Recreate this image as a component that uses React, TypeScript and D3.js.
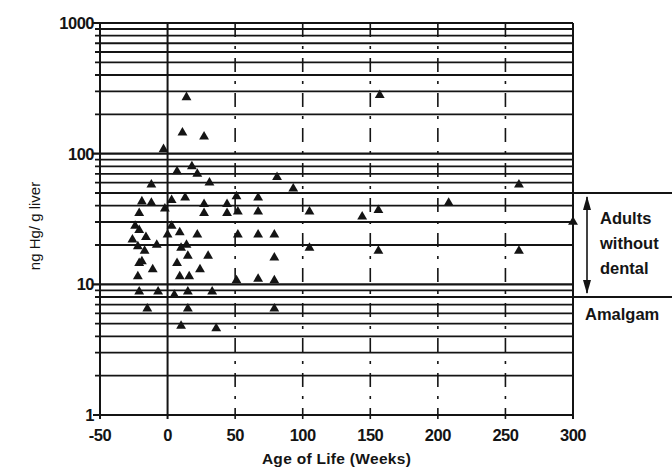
import React from "react";
import * as d3 from "d3";

// age in weeks, Hg in ng/g liver
const ages = [
  14, 11, 27, -3, 157, -12, 7, 18, 22, 31, 81, 93, 260, 156, 208, 144, 300, 156, 260, 105,
  105, 51, 67, 52, 67, 52, 67, 79, 79, 51, 67, 79, 79, -19, -12, 3, 13, 27, 44, 27,
  44, -21, -21, -16, -22, -17, -8, 3, 9, 14, 15, 22, 30, -21, -11, 7, 24, -22, 9, 16,
  -21, -7, 5, 15, 33, -15, 15, 10, 36, -19, -26, -24, 10, -2, 0,
];
const hgValues = [
  270, 145, 135, 108, 280, 58, 73, 80, 70, 60, 66, 54, 58, 37, 42, 33, 30, 18, 18, 36,
  19, 47, 46, 36, 36, 24, 24, 24, 16, 10.7, 11, 10.7, 6.5, 43, 42, 44, 46, 41, 41, 35,
  35, 35, 26, 23, 19.5, 18, 20, 28, 25, 20, 16.5, 24, 16.5, 14.5, 13, 14.5, 13, 11.5, 11.5, 11.5,
  8.8, 8.8, 8.3, 8.8, 8.8, 6.5, 6.5, 4.8, 4.6, 15, 22, 28, 19, 38, 24,
];

const xTicks = [-50, 0, 50, 100, 150, 200, 250, 300];
const yTicks = [1, 10, 100, 1000];
const adultRange = [8, 50];
const adultLabel = ["Adults", "without", "dental"];

const W = 672;
const H = 469;
const left = 100;
const right = 573;
const top = 23;
const bottom = 415;
const ink = "#141414";
const font = "'Liberation Sans', Arial, sans-serif";

export default function App() {
  const x = d3.scaleLinear().domain([-50, 300]).range([left, right]);
  const y = d3.scaleLog().domain([1, 1000]).range([bottom, top]);

  const minor: number[] = [];
  for (const d of [1, 10, 100]) for (let k = 2; k <= 9; k++) minor.push(d * k);

  const tri = d3.symbol(d3.symbolTriangle, 42)() as string;
  const pts = ages.map((a, i) => ({ a, v: hgValues[i] }));

  const arrowX = right + 14;
  const yTop = y(adultRange[1]);
  const yBot = y(adultRange[0]);

  return (
    <svg width={W} height={H} style={{ position: "absolute", left: 0, top: 0, background: "#fff" }}>
      {/* horizontal log grid */}
      {minor.map((v) => (
        <line key={"m" + v} x1={left - 5} x2={right} y1={y(v)} y2={y(v)} stroke={ink} strokeWidth={1.8} />
      ))}
      {yTicks.map((v) => (
        <line key={"M" + v} x1={left - 7} x2={right} y1={y(v)} y2={y(v)} stroke={ink} strokeWidth={2.2} />
      ))}

      {/* vertical grid */}
      {xTicks.map((v) => {
        const solid = v === -50 || v === 0 || v === 300;
        return (
          <line
            key={"v" + v}
            x1={x(v)}
            x2={x(v)}
            y1={top}
            y2={bottom + 4}
            stroke={ink}
            strokeWidth={solid ? 2 : 1.6}
            strokeDasharray={solid ? undefined : "14 9 3 9"}
          />
        );
      })}

      {/* adult reference bracket */}
      <line x1={right} x2={W} y1={yTop} y2={yTop} stroke={ink} strokeWidth={2} />
      <line x1={right} x2={W} y1={yBot} y2={yBot} stroke={ink} strokeWidth={2} />
      <line x1={arrowX} x2={arrowX} y1={yTop + 4} y2={yBot - 4} stroke={ink} strokeWidth={1.6} />
      <path d={`M${arrowX},${yTop + 3} l-4,14 l8,0 z`} fill={ink} />
      <path d={`M${arrowX},${yBot - 3} l-4,-14 l8,0 z`} fill={ink} />
      {adultLabel.map((t, i) => (
        <text key={t} x={right + 27} y={224 + i * 25} fontFamily={font} fontWeight="bold" fontSize={16.5} fill={ink}>
          {t}
        </text>
      ))}
      <text x={right + 12} y={320} fontFamily={font} fontWeight="bold" fontSize={16.5} fill={ink}>
        Amalgam
      </text>

      {/* points */}
      {pts.map((p, i) => (
        <path key={i} d={tri} transform={`translate(${x(p.a)},${y(p.v)})`} fill={ink} />
      ))}

      {/* tick labels */}
      {yTicks.map((v) => (
        <text key={"yl" + v} x={left - 6} y={y(v) + 6} textAnchor="end" fontFamily={font} fontWeight="bold" fontSize={16.5} fill={ink} letterSpacing={-0.5}>
          {v}
        </text>
      ))}
      {xTicks.map((v) => (
        <text key={"xl" + v} x={x(v)} y={bottom + 26} textAnchor="middle" fontFamily={font} fontWeight="bold" fontSize={16.5} fill={ink} letterSpacing={-0.5}>
          {v}
        </text>
      ))}
      <text x={(left + right) / 2} y={bottom + 49} textAnchor="middle" fontFamily={font} fontWeight="bold" fontSize={15.5} fill={ink} letterSpacing={0.3}>
        Age of Life (Weeks)
      </text>
      <text
        transform={`translate(40,226) rotate(-90)`}
        textAnchor="middle"
        fontFamily={font}
        fontSize={15}
        fill={ink}
      >
        ng Hg/ g liver
      </text>
    </svg>
  );
}
